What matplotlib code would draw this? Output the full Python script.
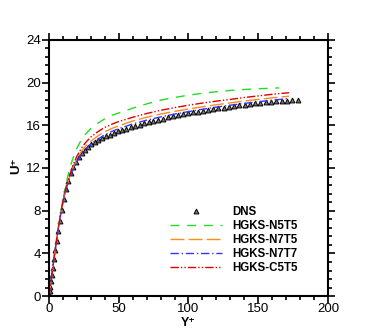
import numpy as np
import matplotlib
matplotlib.use("Agg")
import matplotlib.pyplot as plt
from matplotlib.ticker import MultipleLocator

plt.rcParams['font.family'] = ['Liberation Sans', 'DejaVu Sans']

# DNS reference data
dns_y = [0.0, 0.2, 0.5, 0.9, 1.4, 2.0, 2.7, 3.5, 4.4, 5.4, 6.5, 7.8, 9.1, 10.6, 12.1,
         13.8, 15.5, 17.4, 19.3, 21.3, 23.5, 25.7, 28.0, 30.4, 32.8, 35.4, 38.0, 40.7,
         43.5, 46.4, 49.3, 52.3, 55.3, 58.5, 61.6, 64.9, 68.1, 71.5, 74.8, 78.3, 81.7,
         85.2, 88.7, 92.3, 95.9, 99.5, 103.1, 106.8, 110.4, 114.1, 117.8, 121.5, 125.3,
         129.0, 132.7, 136.5, 140.3, 144.0, 147.8, 151.6, 155.4, 159.2, 163.0, 166.8,
         170.6, 174.4, 178.2]
dns_u = [0.0, 0.2, 0.5, 0.9, 1.4, 2.0, 2.68, 3.45, 4.3, 5.2, 6.1, 7.05, 8.1, 9.1, 10.0,
         10.8, 11.5, 12.1, 12.6, 13.0, 13.4, 13.7, 13.98, 14.22, 14.44, 14.64, 14.82, 14.98,
         15.13, 15.28, 15.42, 15.55, 15.68, 15.82, 15.95, 16.07, 16.19, 16.31, 16.42, 16.53, 16.63,
         16.73, 16.83, 16.93, 17.02, 17.11, 17.2, 17.28, 17.36, 17.44, 17.52, 17.59, 17.66,
         17.73, 17.8, 17.86, 17.92, 17.98, 18.04, 18.09, 18.14, 18.19, 18.23, 18.27,
         18.31, 18.34, 18.36]

# HGKS results
hg_y = [0, 1, 2, 3, 4, 5, 6, 7, 8, 9, 10, 12, 14, 16, 18, 20, 23, 26, 30, 35, 40, 45, 50,
        60, 70, 80, 90, 100, 110, 120, 130, 140, 150, 160, 172]
n5t5_y = hg_y[:-1] + [165]
n5t5_u = [0, 1, 2, 3, 3.95, 4.9, 5.8, 6.7, 7.5, 8.3, 9.0, 10.4, 11.5, 12.45, 13.2, 13.85,
          14.6, 15.15, 15.7, 16.2, 16.6, 16.93, 17.15, 17.6, 18.0, 18.35, 18.6, 18.82,
          19.0, 19.14, 19.26, 19.35, 19.42, 19.47, 19.5]
n7t5_u = [0, 1, 2, 3, 3.95, 4.85, 5.75, 6.6, 7.4, 8.15, 8.85, 10.0, 10.9, 11.65, 12.3, 12.85,
          13.5, 14.0, 14.5, 15.0, 15.4, 15.7, 15.95, 16.4, 16.75, 17.05, 17.3, 17.53,
          17.73, 17.92, 18.1, 18.27, 18.42, 18.57, 18.72]
n7t7_u = [0, 1, 2, 3, 3.95, 4.85, 5.75, 6.6, 7.4, 8.1, 8.8, 9.9, 10.8, 11.5, 12.1, 12.6,
          13.25, 13.75, 14.25, 14.7, 15.1, 15.42, 15.68, 16.12, 16.48, 16.78, 17.05, 17.28,
          17.5, 17.7, 17.88, 18.05, 18.2, 18.35, 18.5]
c5t5_u = [0, 1, 2, 3, 3.95, 4.85, 5.75, 6.6, 7.45, 8.2, 8.9, 10.1, 11.0, 11.8, 12.5, 13.1,
          13.8, 14.35, 14.9, 15.4, 15.8, 16.1, 16.35, 16.75, 17.1, 17.4, 17.65, 17.88,
          18.08, 18.26, 18.42, 18.6, 18.75, 18.9, 19.05]

fig = plt.figure(figsize=(3.74, 3.32), dpi=100)
ax = fig.add_axes([0.131, 0.108, 0.746, 0.772])

ax.plot(dns_y, dns_u, linestyle='none', marker='^', markersize=3.5,
        markerfacecolor='#777777', markeredgecolor='black', markeredgewidth=0.7,
        label='DNS')
ax.plot(n5t5_y, n5t5_u, color='#22dd22', lw=1.0, dashes=(6.5, 5.5), label='HGKS-N5T5')
ax.plot(hg_y, n7t5_u, color='#ff8c1a', lw=1.0, dashes=(10, 3), label='HGKS-N7T5')
ax.plot(hg_y, n7t7_u, color='#3333ff', lw=1.0, dashes=(6, 2, 1, 2), label='HGKS-N7T7')
ax.plot(hg_y, c5t5_u, color='#dd0000', lw=1.0,
        dashes=(6, 1.5, 1, 1.5, 1, 1.5), label='HGKS-C5T5')

ax.set_xlim(0, 200)
ax.set_ylim(0, 24)
ax.xaxis.set_major_locator(MultipleLocator(50))
ax.xaxis.set_minor_locator(MultipleLocator(10))
ax.yaxis.set_major_locator(MultipleLocator(4))
ax.yaxis.set_minor_locator(MultipleLocator(0.8))
ax.tick_params(which='both', direction='out', top=True, right=True, width=1.2,
               labelsize=9.5, pad=1)
ax.tick_params(axis='x', which='both', pad=0)
ax.tick_params(which='major', length=5)
ax.tick_params(which='minor', length=3)
for s in ax.spines.values():
    s.set_linewidth(1.5)

ax.set_xlabel('Y\u207a', fontsize=9, fontweight='bold')
ax.xaxis.set_label_coords(0.5, -0.080)
ax.set_ylabel('U\u207a', fontsize=9.5, fontweight='bold')
ax.yaxis.set_label_coords(-0.095, 0.51)

leg = ax.legend(loc='upper left', bbox_to_anchor=(0.434, 0.353), frameon=False,
                prop={'weight': 'bold', 'size': 8.3}, handlelength=4.5,
                handletextpad=0.85, labelspacing=0.18, borderaxespad=0, borderpad=0)

fig.savefig('out.png', dpi=100)
